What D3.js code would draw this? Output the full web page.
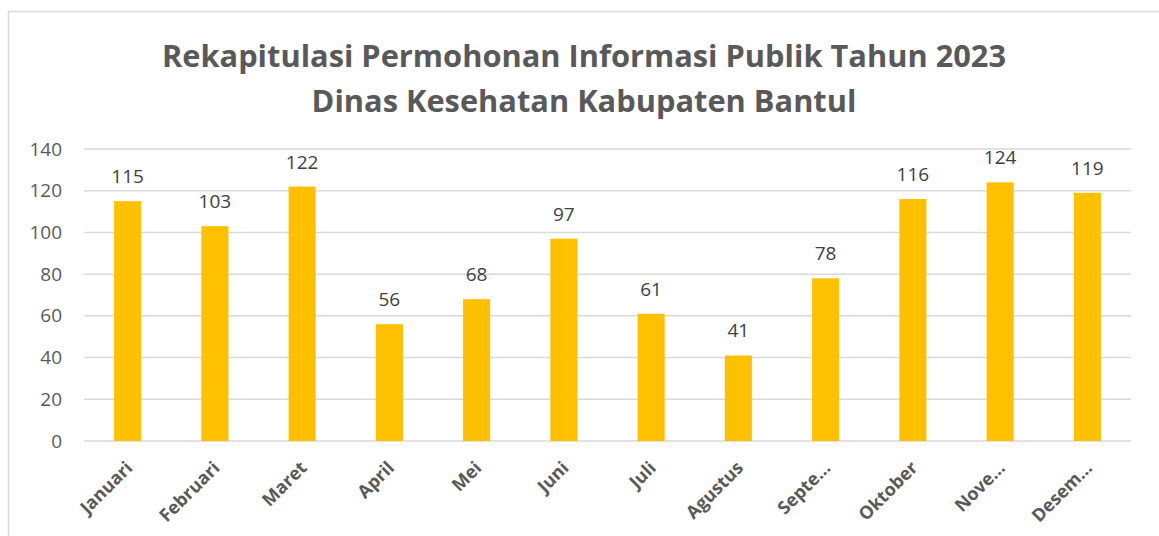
<!DOCTYPE html>
<html>
<head>
<style>
  body { margin: 0; background: #fff; }
  svg text { font-family: "Open Sans", sans-serif; }
</style>
<script src="https://cdnjs.cloudflare.com/ajax/libs/d3/7.8.5/d3.min.js"></script>
</head>
<body>
<div id="chart"></div>
<script>
const months = ["Januari","Februari","Maret","April","Mei","Juni","Juli","Agustus","Septe...","Oktober","Nove...","Desem..."];
const requests = [115, 103, 122, 56, 68, 97, 61, 41, 78, 116, 124, 119];
const yTicks = [0, 20, 40, 60, 80, 100, 120, 140];
const titleLines = ["Rekapitulasi Permohonan Informasi Publik Tahun 2023", "Dinas Kesehatan Kabupaten Bantul"];

const w = 1159, h = 536;
const plotLeft = 84, plotRight = 1131, plotTop = 149, plotBottom = 441;

const svg = d3.select("#chart").append("svg")
    .attr("width", w).attr("height", h);

// chart frame
svg.append("rect")
    .attr("x", 8.5).attr("y", 11.5)
    .attr("width", 1165).attr("height", 540)
    .attr("fill", "none").attr("stroke", "#d9d9d9").attr("stroke-width", 1.5);

svg.selectAll(".title")
    .data(titleLines)
    .enter().append("text")
    .attr("class", "title")
    .attr("x", 584)
    .attr("y", (d, i) => 67 + i * 45)
    .attr("text-anchor", "middle")
    .attr("font-size", "30.8px")
    .attr("font-weight", "bold")
    .attr("fill", "#595959")
    .text(d => d);

const x = d3.scaleBand().domain(months).range([plotLeft, plotRight]).paddingInner(0.69).paddingOuter(0.345);
const y = d3.scaleLinear().domain([0, 140]).range([plotBottom, plotTop]);

// gridlines
svg.append("g")
    .selectAll("line")
    .data(yTicks)
    .enter().append("line")
    .attr("x1", plotLeft).attr("x2", plotRight)
    .attr("y1", d => y(d)).attr("y2", d => y(d))
    .attr("stroke", "#d9d9d9").attr("stroke-width", 1.5);

const yAxis = d3.axisLeft(y).tickValues(yTicks).tickSize(0).tickPadding(22);
svg.append("g")
    .attr("transform", "translate(" + plotLeft + ",0)")
    .call(yAxis)
    .call(g => g.select(".domain").remove())
    .selectAll("text")
    .attr("font-size", "19px")
    .attr("font-family", "Open Sans, sans-serif")
    .attr("fill", "#595959");

svg.selectAll(".bar")
    .data(requests)
    .enter().append("rect")
    .attr("class", "bar")
    .attr("x", (d, i) => x(months[i]))
    .attr("y", d => y(d))
    .attr("width", x.bandwidth())
    .attr("height", d => y(0) - y(d))
    .attr("fill", "#ffc000");

svg.selectAll(".val")
    .data(requests)
    .enter().append("text")
    .attr("class", "val")
    .attr("x", (d, i) => x(months[i]) + x.bandwidth() / 2)
    .attr("y", d => y(d) - 18)
    .attr("text-anchor", "middle")
    .attr("font-size", "19px")
    .attr("fill", "#404040")
    .text(d => d);

const xAxis = d3.axisBottom(x).tickSize(0).tickPadding(0);
svg.append("g")
    .attr("transform", "translate(0," + plotBottom + ")")
    .call(xAxis)
    .call(g => g.select(".domain").remove())
    .selectAll("text")
    .attr("font-size", "18px")
    .attr("font-weight", "bold")
    .attr("font-family", "Open Sans, sans-serif")
    .attr("fill", "#595959")
    .attr("text-anchor", "end")
    .attr("dy", "0")
    .attr("transform", "translate(6,28) rotate(-45)");
</script>
</body>
</html>
